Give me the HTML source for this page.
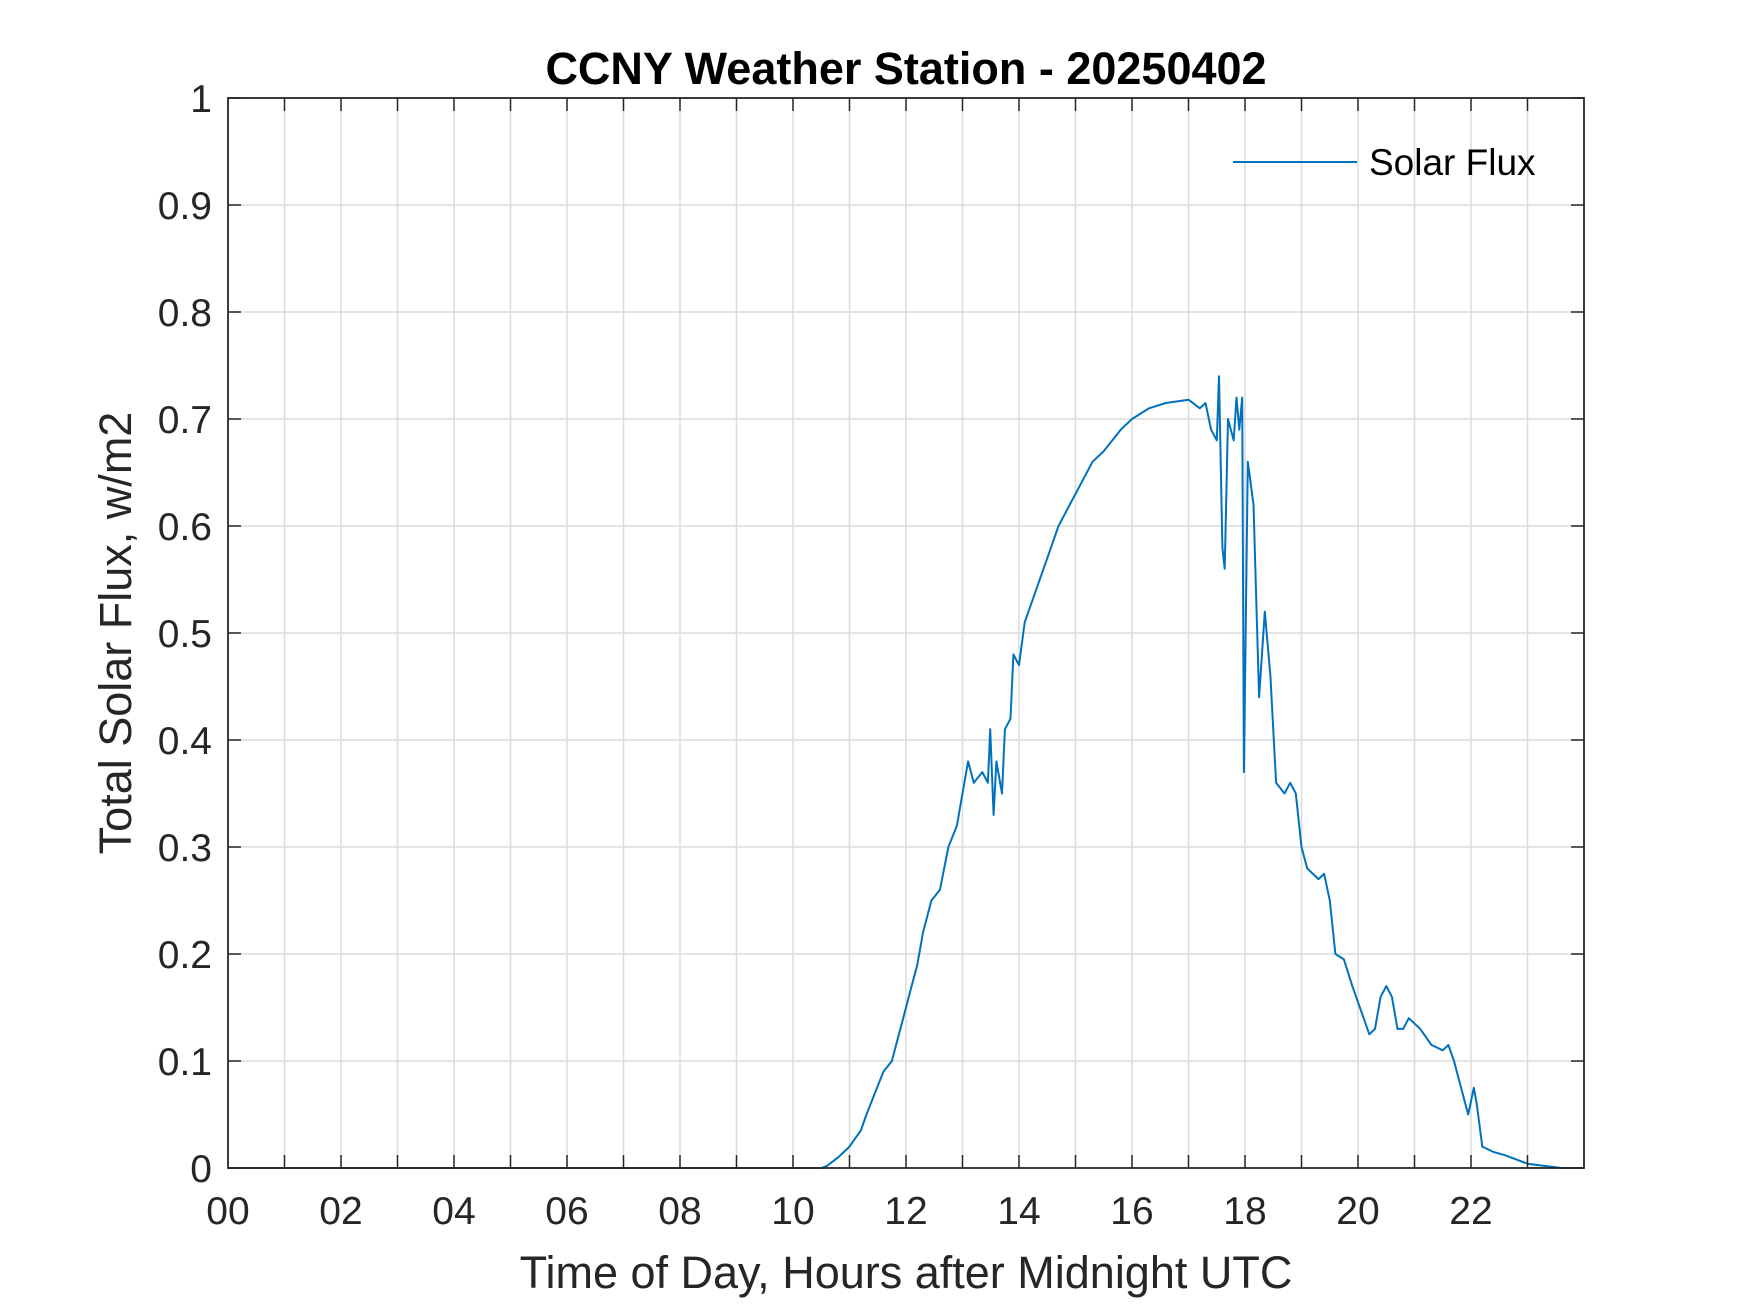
<!DOCTYPE html>
<html><head><meta charset="utf-8"><style>
html,body{margin:0;padding:0;background:#fff;}
svg{display:block;font-family:"Liberation Sans",Arial,sans-serif;}
</style></head><body>
<svg id="chart" width="1750" height="1313" viewBox="0 0 1750 1313">
<rect width="1750" height="1313" fill="#fff"/>
<g id="grid"></g>
<g id="series"></g>
<g id="axes"></g>
<text x="906" y="84" font-size="45" font-weight="bold" text-anchor="middle" fill="#000">CCNY Weather Station - 20250402</text>
<text x="906" y="1288" font-size="45" text-anchor="middle" fill="#262626">Time of Day, Hours after Midnight UTC</text>
<text transform="translate(131,633) rotate(-90)" font-size="45" text-anchor="middle" fill="#262626">Total Solar Flux, w/m2</text>
<g>
<line x1="1233" y1="162" x2="1357" y2="162" stroke="#0072BD" stroke-width="2"/>
<text x="1369" y="175" font-size="37" fill="#000">Solar Flux</text>
</g>
</svg>
<script>
const xTicks = [0,2,4,6,8,10,12,14,16,18,20,22];
const xTickLabels = ["00","02","04","06","08","10","12","14","16","18","20","22"];
const yTicks = [0,0.1,0.2,0.3,0.4,0.5,0.6,0.7,0.8,0.9,1];
const yTickLabels = ["0","0.1","0.2","0.3","0.4","0.5","0.6","0.7","0.8","0.9","1"];
const hours = [0,2,4,6,8,10,10.5,10.6,10.8,11.0,11.2,11.3,11.45,11.6,11.75,11.85,11.95,12.1,12.2,12.3,12.45,12.6,12.75,12.9,13.0,13.1,13.2,13.35,13.45,13.49,13.55,13.6,13.7,13.75,13.85,13.9,14.0,14.1,14.3,14.5,14.7,14.9,15.1,15.3,15.5,15.8,16.0,16.3,16.6,17.0,17.2,17.3,17.4,17.5,17.54,17.6,17.64,17.7,17.8,17.85,17.9,17.95,17.98,18.05,18.15,18.25,18.35,18.45,18.55,18.7,18.8,18.9,19.0,19.1,19.3,19.4,19.5,19.6,19.75,19.9,20.1,20.2,20.3,20.4,20.5,20.6,20.7,20.8,20.9,21.1,21.3,21.5,21.6,21.7,21.85,21.95,22.05,22.1,22.2,22.4,22.6,22.8,23.0,23.3,23.6,24];
const flux = [0,0,0,0,0,0,0,0.002,0.01,0.02,0.035,0.05,0.07,0.09,0.1,0.12,0.14,0.17,0.19,0.22,0.25,0.26,0.3,0.32,0.35,0.38,0.36,0.37,0.36,0.41,0.33,0.38,0.35,0.41,0.42,0.48,0.47,0.51,0.54,0.57,0.6,0.62,0.64,0.66,0.67,0.69,0.70,0.71,0.715,0.718,0.71,0.715,0.69,0.68,0.74,0.58,0.56,0.7,0.68,0.72,0.69,0.72,0.37,0.66,0.62,0.44,0.52,0.46,0.36,0.35,0.36,0.35,0.3,0.28,0.27,0.275,0.25,0.2,0.195,0.17,0.14,0.125,0.13,0.16,0.17,0.16,0.13,0.13,0.14,0.13,0.115,0.11,0.115,0.1,0.07,0.05,0.075,0.06,0.02,0.015,0.012,0.008,0.004,0.002,0,0];

const L=228,R=1584,T=98,B=1168, X0=0,X1=24,Y0=0,Y1=1;
const xs=v=>L+(v-X0)/(X1-X0)*(R-L);
const ys=v=>B-(v-Y0)/(Y1-Y0)*(B-T);
const NS="http://www.w3.org/2000/svg";
function mk(tag,attrs,parent){const e=document.createElementNS(NS,tag);for(const k in attrs)e.setAttribute(k,attrs[k]);parent.appendChild(e);return e;}
const grid=document.getElementById('grid'),axes=document.getElementById('axes'),series=document.getElementById('series');

for(let h=1;h<24;h++){
  const g=mk('line',{x1:xs(h),x2:xs(h),y1:T,y2:B,stroke:'#dcdcdc','stroke-width':1.5},grid);
  
  
  const t1=mk('line',{x1:xs(h),x2:xs(h),y1:B,y2:B-13,stroke:'#262626','stroke-width':1.5},axes);
  
  
  const t2=mk('line',{x1:xs(h),x2:xs(h),y1:T,y2:T+13,stroke:'#262626','stroke-width':1.5},axes);
  
  
}
xTicks.forEach((v,i)=>{
  const t=mk('text',{x:xs(v),y:B+56,'font-size':39,'text-anchor':'middle',fill:'#262626'},axes);
  t.textContent=xTickLabels[i];
  
  
});
yTicks.forEach((v,i)=>{
  if(v>0&&v<1){
    const g=mk('line',{x1:L,x2:R,y1:ys(v),y2:ys(v),stroke:'#dcdcdc','stroke-width':1.5},grid);
    
    
  }
  const t1=mk('line',{x1:L,x2:L+13,y1:ys(v),y2:ys(v),stroke:'#262626','stroke-width':1.5},axes);
  
  
  const t2=mk('line',{x1:R,x2:R-13,y1:ys(v),y2:ys(v),stroke:'#262626','stroke-width':1.5},axes);
  
  
  const t=mk('text',{x:L-16,y:ys(v)+14,'font-size':39,'text-anchor':'end',fill:'#262626'},axes);
  t.textContent=yTickLabels[i];
  
  
});
const box=mk('rect',{x:L,y:T,width:R-L,height:B-T,fill:'none',stroke:'#262626','stroke-width':1.8},axes);



const d=hours.map((h,i)=>(i?'L':'M')+xs(h).toFixed(1)+','+ys(flux[i]).toFixed(1)).join(' ');
const p=mk('path',{d:d,fill:'none',stroke:'#0072BD','stroke-width':2,'stroke-linejoin':'round'},series);


</script>
</body></html>
